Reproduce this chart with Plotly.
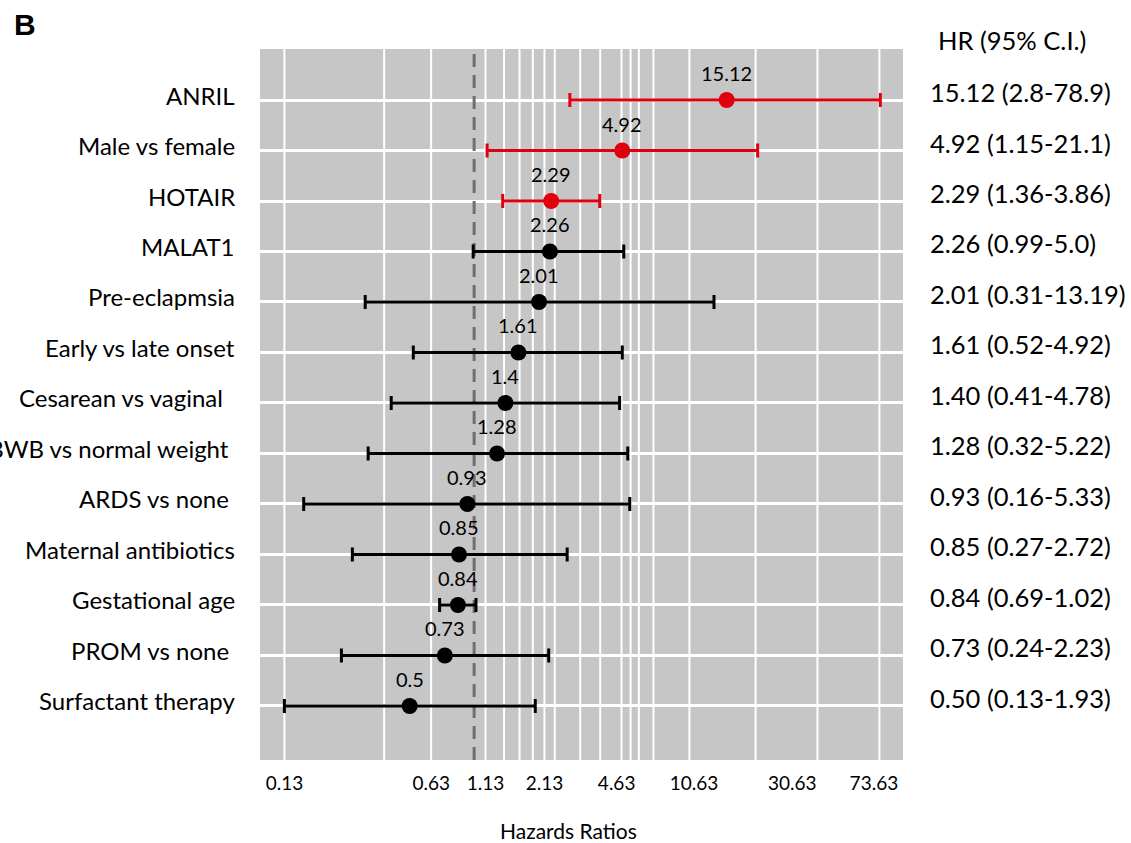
import numpy as np
import plotly.graph_objects as go

# ---------------- data ----------------
labels = ["ANRIL", "Male vs female", "HOTAIR", "MALAT1", "Pre-eclapmsia",
          "Early vs late onset", "Cesarean vs vaginal\u00a0\u00a0", "LBWB vs normal weight\u00a0",
          "ARDS vs none\u00a0", "Maternal antibiotics", "Gestational age",
          "PROM vs none\u00a0", "Surfactant therapy"]
hr = [15.12, 4.92, 2.29, 2.26, 2.01, 1.61, 1.40, 1.28, 0.93, 0.85, 0.84, 0.73, 0.50]
lo = [2.8, 1.15, 1.36, 0.99, 0.31, 0.52, 0.41, 0.32, 0.16, 0.27, 0.69, 0.24, 0.13]
hi = [78.9, 21.1, 3.86, 5.0, 13.19, 4.92, 4.78, 5.22, 5.33, 2.72, 1.02, 2.23, 1.93]
significant = [True, True, True, False, False, False, False, False, False, False, False, False, False]
ci_text = ["15.12 (2.8-78.9)", "4.92 (1.15-21.1)", "2.29 (1.36-3.86)", "2.26 (0.99-5.0)",
           "2.01 (0.31-13.19)", "1.61 (0.52-4.92)", "1.40 (0.41-4.78)", "1.28 (0.32-5.22)",
           "0.93 (0.16-5.33)", "0.85 (0.27-2.72)", "0.84 (0.69-1.02)", "0.73 (0.24-2.23)",
           "0.50 (0.13-1.93)"]
tick_vals = [0.13, 0.63, 1.13, 2.13, 4.63, 10.63, 30.63, 73.63]
grid_vals = [0.13, 0.38, 0.63, 1.13, 1.38, 1.63, 1.88, 2.13, 2.38, 3.13, 3.88,
             4.88, 5.38, 5.88, 6.88, 10.13, 20.63, 40.13, 78.13]

FONT = "Lato"
RED = "#e0000d"
n = len(labels)
rows = [n - 1 - i for i in range(n)]
Y_LO, Y_HI = -1.07, 13.01

# plot-area geometry (pixels) used to place the side texts
L, R, T, B = 260, 903, 49, 760
PW, PH = R - L, B - T


def px_x(p):
    return (p - L) / PW


def px_y(p):
    return (B - p) / PH


fig = go.Figure()

# vertical white gridlines
gx, gy = [], []
for v in grid_vals:
    gx += [v, v, None]
    gy += [Y_LO, Y_HI, None]
fig.add_trace(go.Scatter(x=gx, y=gy, mode="lines", line=dict(color="white", width=2),
                         hoverinfo="skip", showlegend=False))

# reference line at HR = 1
fig.add_trace(go.Scatter(x=[1, 1], y=[Y_LO, Y_HI], mode="lines",
                         line=dict(color="#6f6f6f", width=3, dash="13px,8px"),
                         hoverinfo="skip", showlegend=False))

for flag, color in [(False, "black"), (True, RED)]:
    idx = [i for i in range(n) if significant[i] == flag]
    fig.add_trace(go.Scatter(
        x=[hr[i] for i in idx], y=[rows[i] for i in idx], mode="markers",
        marker=dict(size=16, color=color),
        error_x=dict(type="data", symmetric=False,
                     array=[hi[i] - hr[i] for i in idx],
                     arrayminus=[hr[i] - lo[i] for i in idx],
                     color=color, thickness=3, width=7),
        showlegend=False))

annotations = []
for i in range(n):
    # value above the point
    annotations.append(dict(x=np.log10(hr[i]), y=rows[i], xref="x", yref="y",
                            text=f"{hr[i]:g}", showarrow=False, yshift=27,
                            xanchor="center", yanchor="middle",
                            font=dict(family=FONT, size=20, color="black")))
    # row label on the left
    annotations.append(dict(x=px_x(237), y=rows[i], xref="paper", yref="y",
                            text=labels[i], showarrow=False, xanchor="right",
                            yanchor="middle", yshift=5,
                            font=dict(family=FONT, size=24, color="black")))
    # HR (CI) text on the right
    annotations.append(dict(x=px_x(928), y=rows[i], xref="paper", yref="y",
                            text=ci_text[i], showarrow=False, xanchor="left",
                            yanchor="middle", yshift=8,
                            font=dict(family=FONT, size=25.5, color="black")))
annotations.append(dict(x=px_x(936), y=px_y(40), xref="paper", yref="paper",
                        text="HR (95% C.I.)", showarrow=False, xanchor="left", yanchor="middle",
                        font=dict(family=FONT, size=25.5, color="black")))
annotations.append(dict(x=px_x(568), y=px_y(830), xref="paper", yref="paper",
                        text="Hazards Ratios", showarrow=False, xanchor="center", yanchor="middle",
                        font=dict(family=FONT, size=21, color="black")))
annotations.append(dict(x=px_x(12), y=px_y(25), xref="paper", yref="paper",
                        text="<b>B</b>", showarrow=False, xanchor="left", yanchor="middle",
                        font=dict(family="Liberation Sans", size=30, color="black")))

fig.update_layout(
    width=1131, height=843,
    margin=dict(l=L, r=1131 - R, t=T, b=843 - B, autoexpand=False),
    plot_bgcolor="#c6c6c6", paper_bgcolor="white",
    xaxis=dict(type="log", range=[-1, 2.003], tickvals=tick_vals,
               ticktext=[f"{v:.2f}" for v in tick_vals],
               showgrid=False, zeroline=False, showline=False, automargin=False,
               ticks="outside", ticklen=6, tickcolor="rgba(0,0,0,0)",
               tickfont=dict(family=FONT, size=19, color="black")),
    yaxis=dict(range=[Y_LO, Y_HI], tickvals=rows, showticklabels=False,
               showgrid=True, gridcolor="white", gridwidth=3,
               zeroline=False, showline=False, automargin=False, ticks=""),
    annotations=annotations,
)

fig.write_html("out.html", config={"displayModeBar": False},
               post_script="document.body.style.margin='0px';document.body.style.overflow='hidden';")
